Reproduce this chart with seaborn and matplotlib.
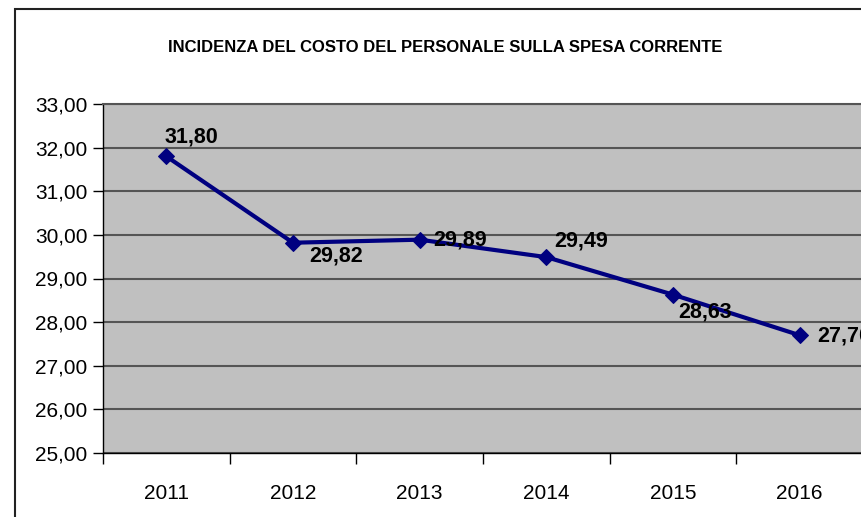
import numpy as np
import pandas as pd
import seaborn as sns
import matplotlib.pyplot as plt
from matplotlib.patches import Rectangle
from matplotlib.ticker import FuncFormatter, FixedLocator

years = ["2011", "2012", "2013", "2014", "2015", "2016"]
values = [31.80, 29.82, 29.89, 29.49, 28.63, 27.70]
# label offsets in pixels (dx, dy), left aligned, vertically centered
label_offsets = [(-2, 19), (16, -13), (14, 0), (8, 16), (5, -17), (18, -1)]

sns.set_style("white")
plt.rcParams['font.family'] = ['Liberation Sans', 'DejaVu Sans']
plt.rcParams['text.color'] = 'black'
plt.rcParams['xtick.color'] = 'black'
plt.rcParams['ytick.color'] = 'black'

df = pd.DataFrame({"anno": years, "valore": values})

fig = plt.figure(figsize=(8.61, 5.17), dpi=100)
W, H = 861, 517
ax = fig.add_axes([103 / W, (H - 453) / H, 760 / W, 349 / H])
ax.set_facecolor("#C0C0C0")

sns.lineplot(data=df, x="anno", y="valore", ax=ax, color="#000080",
             linewidth=3, marker="D", markersize=8, markeredgecolor="#000080")

ax.set_ylim(25, 33)
ax.set_xlim(-0.5, 5.5)
ax.set_yticks(np.arange(25, 34, 1))
ax.yaxis.set_major_formatter(FuncFormatter(lambda v, p: f"{v:.2f}".replace(".", ",")))
ax.grid(axis="y", color="#555555", linewidth=1.5)
ax.set_axisbelow(True)

ax.set_xticks(range(len(years)))
ax.set_xticklabels(years)
ax.tick_params(axis="x", which="major", length=0, pad=22, labelsize=15)
ax.xaxis.set_minor_locator(FixedLocator(np.arange(-0.5, 6, 1)))
ax.tick_params(axis="x", which="minor", length=8, width=1, color="black", direction="out", bottom=True)
ax.tick_params(axis="y", length=7, width=1, color="black", direction="out", left=True, labelsize=15, pad=4)

ax.set_xlabel("")
ax.set_ylabel("")
for s in ["left", "bottom"]:
    ax.spines[s].set_color("black")
    ax.spines[s].set_linewidth(1)
ax.spines["top"].set_color("#555555")
ax.spines["top"].set_linewidth(1.5)
ax.spines["right"].set_visible(False)

for i, (v, off) in enumerate(zip(values, label_offsets)):
    ax.annotate(f"{v:.2f}".replace(".", ","), (i, v), xytext=off,
                textcoords="offset pixels", ha="left", va="center",
                fontsize=15.5, fontweight="bold", color="black",
                annotation_clip=False)

fig.text(445 / W, 1 - 47 / H, "INCIDENZA DEL COSTO DEL PERSONALE SULLA SPESA CORRENTE",
         ha="center", va="center", fontsize=12, fontweight="bold")

fig.patches.append(Rectangle((15 / W, -0.1), 1.2, 1.1 - 9 / H, transform=fig.transFigure,
                             fill=False, edgecolor="#222222", linewidth=1.5))

fig.savefig("out.png", dpi=100)
